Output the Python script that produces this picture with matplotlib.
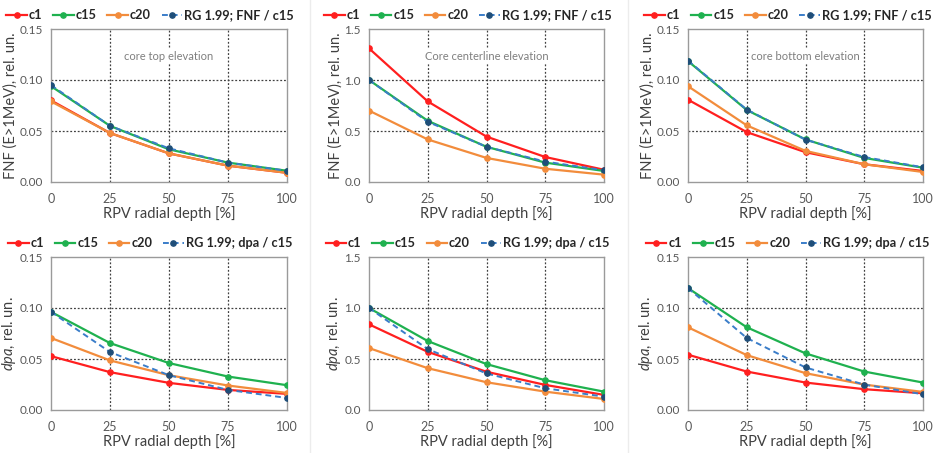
import matplotlib
matplotlib.use("Agg")
import matplotlib.pyplot as plt
from matplotlib.lines import Line2D

plt.rcParams['font.family'] = ['Lato', 'DejaVu Sans']
plt.rcParams['mathtext.fontset'] = 'custom'
plt.rcParams['mathtext.it'] = 'Lato:italic'
plt.rcParams['mathtext.rm'] = 'Lato'

depth = [0, 25, 50, 75, 100]
xticks = [0, 25, 50, 75, 100]

# FNF (E>1MeV) - top row
fnf_top_c1 = [0.080, 0.048, 0.028, 0.016, 0.009]
fnf_top_c15 = [0.094, 0.055, 0.032, 0.019, 0.011]
fnf_top_c20 = [0.079, 0.048, 0.028, 0.016, 0.009]
fnf_top_rg = [0.095, 0.055, 0.033, 0.019, 0.011]

fnf_mid_c1 = [1.31, 0.79, 0.445, 0.245, 0.12]
fnf_mid_c15 = [1.00, 0.60, 0.345, 0.19, 0.108]
fnf_mid_c20 = [0.70, 0.417, 0.236, 0.13, 0.072]
fnf_mid_rg = [1.00, 0.59, 0.345, 0.20, 0.115]

fnf_bot_c1 = [0.0807, 0.0489, 0.0292, 0.0174, 0.0108]
fnf_bot_c15 = [0.1185, 0.0706, 0.0417, 0.0236, 0.0140]
fnf_bot_c20 = [0.0939, 0.0555, 0.0305, 0.0174, 0.0098]
fnf_bot_rg = [0.119, 0.0710, 0.0415, 0.0245, 0.0144]

# dpa - bottom row
dpa_top_c1 = [0.0528, 0.0371, 0.0266, 0.0197, 0.0158]
dpa_top_c15 = [0.0962, 0.0656, 0.0460, 0.0328, 0.0243]
dpa_top_c20 = [0.0706, 0.0486, 0.0341, 0.0240, 0.0167]
dpa_top_rg = [0.0962, 0.0568, 0.0341, 0.0197, 0.0118]

dpa_mid_c1 = [0.84, 0.57, 0.375, 0.246, 0.148]
dpa_mid_c15 = [1.00, 0.676, 0.45, 0.292, 0.18]
dpa_mid_c20 = [0.607, 0.41, 0.272, 0.18, 0.108]
dpa_mid_rg = [1.00, 0.597, 0.358, 0.213, 0.131]

dpa_bot_c1 = [0.0542, 0.0377, 0.0269, 0.0204, 0.0164]
dpa_bot_c15 = [0.1195, 0.0811, 0.0555, 0.0377, 0.0269]
dpa_bot_c20 = [0.0811, 0.0538, 0.0361, 0.0249, 0.0177]
dpa_bot_rg = [0.1195, 0.0706, 0.0417, 0.0249, 0.0154]

annotations = ["core top elevation", "Core centerline elevation", "core bottom elevation"]
fnf_ylabel = "FNF (E>1MeV), rel. un."
dpa_ylabel = r"$\mathit{dpa}$, rel. un."
xlabel = "RPV radial depth [%]"
series_names = ["c1", "c15", "c20"]
rg_fnf = "RG 1.99; FNF / c15"
rg_dpa = "RG 1.99; dpa / c15"

small_ticks = [0.00, 0.05, 0.10, 0.15]
small_ticklabels = ["0.00", "0.05", "0.10", "0.15"]
big_ticks = [0.0, 0.5, 1.0, 1.5]
big_ticklabels = ["0.0", "0.5", "1.0", "1.5"]

col_c1 = '#FF1F1F'
col_c15 = '#1FB14F'
col_c20 = '#F28C3C'
col_rg = '#3A7DC9'
col_rg_m = '#1F4E79'

panels = [
    [(fnf_top_c1, fnf_top_c15, fnf_top_c20, fnf_top_rg), (fnf_mid_c1, fnf_mid_c15, fnf_mid_c20, fnf_mid_rg),
     (fnf_bot_c1, fnf_bot_c15, fnf_bot_c20, fnf_bot_rg)],
    [(dpa_top_c1, dpa_top_c15, dpa_top_c20, dpa_top_rg), (dpa_mid_c1, dpa_mid_c15, dpa_mid_c20, dpa_mid_rg),
     (dpa_bot_c1, dpa_bot_c15, dpa_bot_c20, dpa_bot_rg)],
]

W, H = 935, 453
fig = plt.figure(figsize=(W / 100, H / 100), dpi=100)
fig.patch.set_facecolor('white')

lefts = [51, 369, 688]
widths = [236, 235, 235]
tops = [29, 257]
ax_h = 153
leg_anchor = [0.42, 0.42, 0.425]

tick_col = '#595959'
lab_col = '#404040'

for r in range(2):
    for c in range(3):
        c1, c15, c20, rg = panels[r][c]
        ax = fig.add_axes([lefts[c] / W, 1 - (tops[r] + ax_h) / H, widths[c] / W, ax_h / H])
        lw = 1.6
        ms = 3.8
        ax.plot(depth, c1, color=col_c1, lw=lw, marker='o', ms=ms, label=series_names[0], zorder=3)
        ax.plot(depth, c15, color=col_c15, lw=lw, marker='o', ms=ms, label=series_names[1], zorder=3)
        ax.plot(depth, c20, color=col_c20, lw=lw, marker='o', ms=ms, label=series_names[2], zorder=3)
        ax.plot(depth, rg, color=col_rg, lw=1.4, ls=(0, (3, 2)), marker='o', ms=ms,
                markerfacecolor=col_rg_m, markeredgecolor=col_rg_m,
                label=rg_fnf if r == 0 else rg_dpa, zorder=4)
        ax.set_xlim(0, 100)
        ax.set_xticks(xticks)
        ax.set_xticklabels([str(v) for v in xticks])
        if c == 1:
            ax.set_ylim(0, 1.5)
            ax.set_yticks(big_ticks)
            ax.set_yticklabels(big_ticklabels)
            gy = [0.5, 1.0]
        else:
            ax.set_ylim(0, 0.15)
            ax.set_yticks(small_ticks)
            ax.set_yticklabels(small_ticklabels)
            gy = [0.05, 0.10]
        for gx in [25, 50, 75]:
            ax.axvline(gx, color='#404040', lw=0.9, ls=(0, (1.5, 1.5)), zorder=1)
        for g in gy:
            ax.axhline(g, color='#404040', lw=0.9, ls=(0, (1.5, 1.5)), zorder=1)
        ax.tick_params(axis='x', length=0, labelsize=9, colors=tick_col, pad=8)
        ax.tick_params(axis='y', length=0, labelsize=8.5, colors=tick_col, pad=6)
        for s in ax.spines.values():
            s.set_color('#9a9a9a')
            s.set_linewidth(1.0)
        ax.set_xlabel(xlabel, fontsize=10.5, color=lab_col, labelpad=1)
        ax.set_ylabel(fnf_ylabel if r == 0 else dpa_ylabel, fontsize=10.5, color=lab_col, labelpad=1)
        if r == 0:
            ytop = ax.get_ylim()[1]
            ax.text(50, ytop * 0.818, annotations[c], ha='center', va='center', fontsize=8,
                    color='#7f7f7f', zorder=2,
                    bbox=dict(facecolor='white', edgecolor='none', pad=1.5))
        leg = ax.legend(loc='lower center', bbox_to_anchor=(leg_anchor[c], 1.0), ncol=4, frameon=False,
                        handlelength=1.6, handletextpad=0.15, columnspacing=0.85,
                        borderaxespad=0.2, prop={'weight': 'bold', 'size': 9.2})
        for t in leg.get_texts():
            t.set_color('#262626')

for xs in [310, 628]:
    fig.add_artist(Line2D([xs / W, xs / W], [0, 1], color='#ececec', lw=1.0))

fig.savefig('out.png', dpi=100, facecolor='white')
